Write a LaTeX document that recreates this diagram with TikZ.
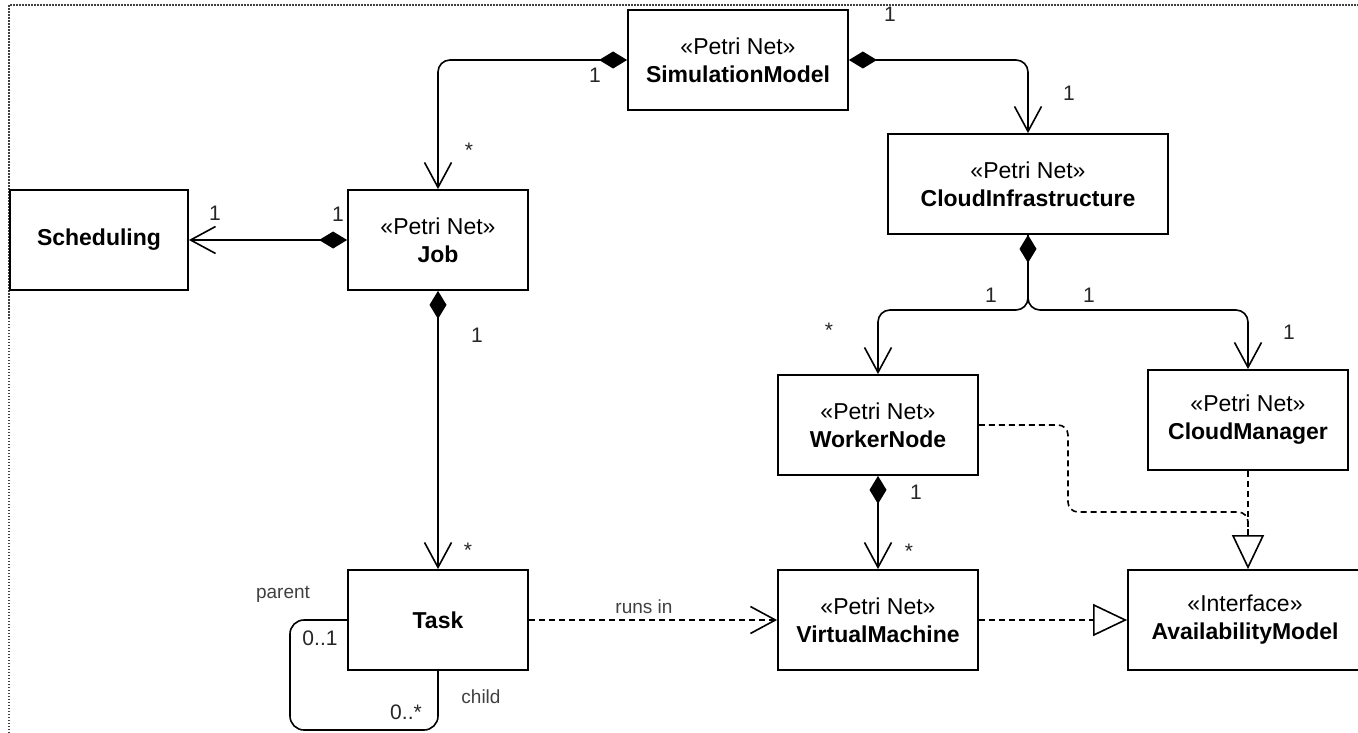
\documentclass[tikz,border=0pt]{standalone}
\usepackage{fontspec}
\setmainfont{Liberation Sans}
\usetikzlibrary{arrows.meta}
\begin{document}
\begin{tikzpicture}[x=1pt,y=-1pt,
  box/.style={draw, line width=1.8pt, fill=white, align=center, inner sep=0pt,
    font=\fontsize{23}{28}\selectfont},
  lbl/.style={font=\fontsize{21}{22}\selectfont, inner sep=0pt, text=black!85},
  rolelbl/.style={font=\fontsize{19}{22}\selectfont, inner sep=0pt, text=black!75},
  conn/.style={line width=1.6pt, rounded corners=12pt},
  barb/.style={-{Straight Barb[length=25pt,width=27pt]}},
  comp/.style={conn, {Diamond[length=28pt,width=17pt]}-{Straight Barb[length=25pt,width=27pt]}},
  dep/.style={conn, dash pattern=on 6pt off 4pt},
  real/.style={dep, -{Triangle[fill=white,length=34pt,width=32pt]}},
  frame/.style={line width=1.5pt, black!75, dash pattern=on 1.5pt off 1.5pt}
]
\useasboundingbox (0,0) rectangle (1358,733);
\draw[frame] (9,733) -- (9,5) -- (1358,5);

% classes
\node[box, minimum width=220pt, minimum height=100pt] (sim) at (738,60) {«Petri Net»\\\textbf{SimulationModel}};
\node[box, minimum width=280pt, minimum height=100pt] (cloud) at (1028,184) {«Petri Net»\\\textbf{CloudInfrastructure}};
\node[box, minimum width=180pt, minimum height=100pt] (job) at (438,240) {«Petri Net»\\\textbf{Job}};
\node[box, minimum width=178pt, minimum height=100pt] (sched) at (99,240) {\textbf{Scheduling}};
\node[box, minimum width=200pt, minimum height=100pt] (worker) at (878,425) {«Petri Net»\\\textbf{WorkerNode}};
\node[box, minimum width=200pt, minimum height=100pt] (mgr) at (1248,420) {«Petri Net»\\\textbf{CloudManager}};
\node[box, minimum width=180pt, minimum height=100pt] (task) at (438,620) {\textbf{Task}};
\node[box, minimum width=200pt, minimum height=100pt] (vm) at (878,620) {«Petri Net»\\\textbf{VirtualMachine}};
\node[box, minimum width=234pt, minimum height=100pt] (avail) at (1245,620) {«Interface»\\\textbf{AvailabilityModel}};

\coordinate (br) at (1028,310);
\coordinate (avin) at (mgr.south |- avail.north);

% composition connectors
\draw[comp] (sim.west) -| (job.north);
\draw[comp] (sim.east) -| (cloud.north);
\draw[comp] (job.west) -- (sched.east);
\draw[comp] (job.south) -- (task.north);
\draw[comp] (cloud.south) -- (br) -| (worker.north);
\draw[conn, barb] (cloud.south) -- (br) -| (mgr.north);
\draw[comp] (worker.south) -- (vm.north);

% dependencies / realizations
\draw[dep, barb] (task.east) -- (vm.west);
\draw[real] (vm.east) -- (avail.west);
\draw[dep, rounded corners=10pt] (worker.east) -- (1068,425) -- (1068,512) -- (1248,512) -- (avin);
\draw[real] (mgr.south) -- (avin);

% self association of Task
\draw[conn, rounded corners=14pt] (task.west) -- (290,620) -- (290,730) -- (438,730) -- (task.south);

% multiplicities
\node[lbl] (m1) at (595,75) {1};
\node[lbl] (m2) at (469,150) {*};
\node[lbl] (m3) at (890,14) {1};
\node[lbl] (m4) at (1069,93) {1};
\node[lbl] (m5) at (215,213) {1};
\node[lbl] (m6) at (338,214) {1};
\node[lbl] (m7) at (477,335) {1};
\node[lbl] (m8) at (468,550) {*};
\node[lbl] (m9) at (991,295) {1};
\node[lbl] (m10) at (1089,295) {1};
\node[lbl] (m11) at (829,330) {*};
\node[lbl] (m12) at (1289,332) {1};
\node[lbl] (m13) at (916,492) {1};
\node[lbl] (m14) at (909,551) {*};
\node[lbl] (m15) at (320,638) {0..1};
\node[lbl] (m16) at (406,712) {0..*};

% role / association labels
\node[rolelbl] (runs) at (644,607) {runs in};
\node[rolelbl] (parent) at (283,594) {parent};
\node[rolelbl] (child) at (481,697) {child};
\end{tikzpicture}
\end{document}
